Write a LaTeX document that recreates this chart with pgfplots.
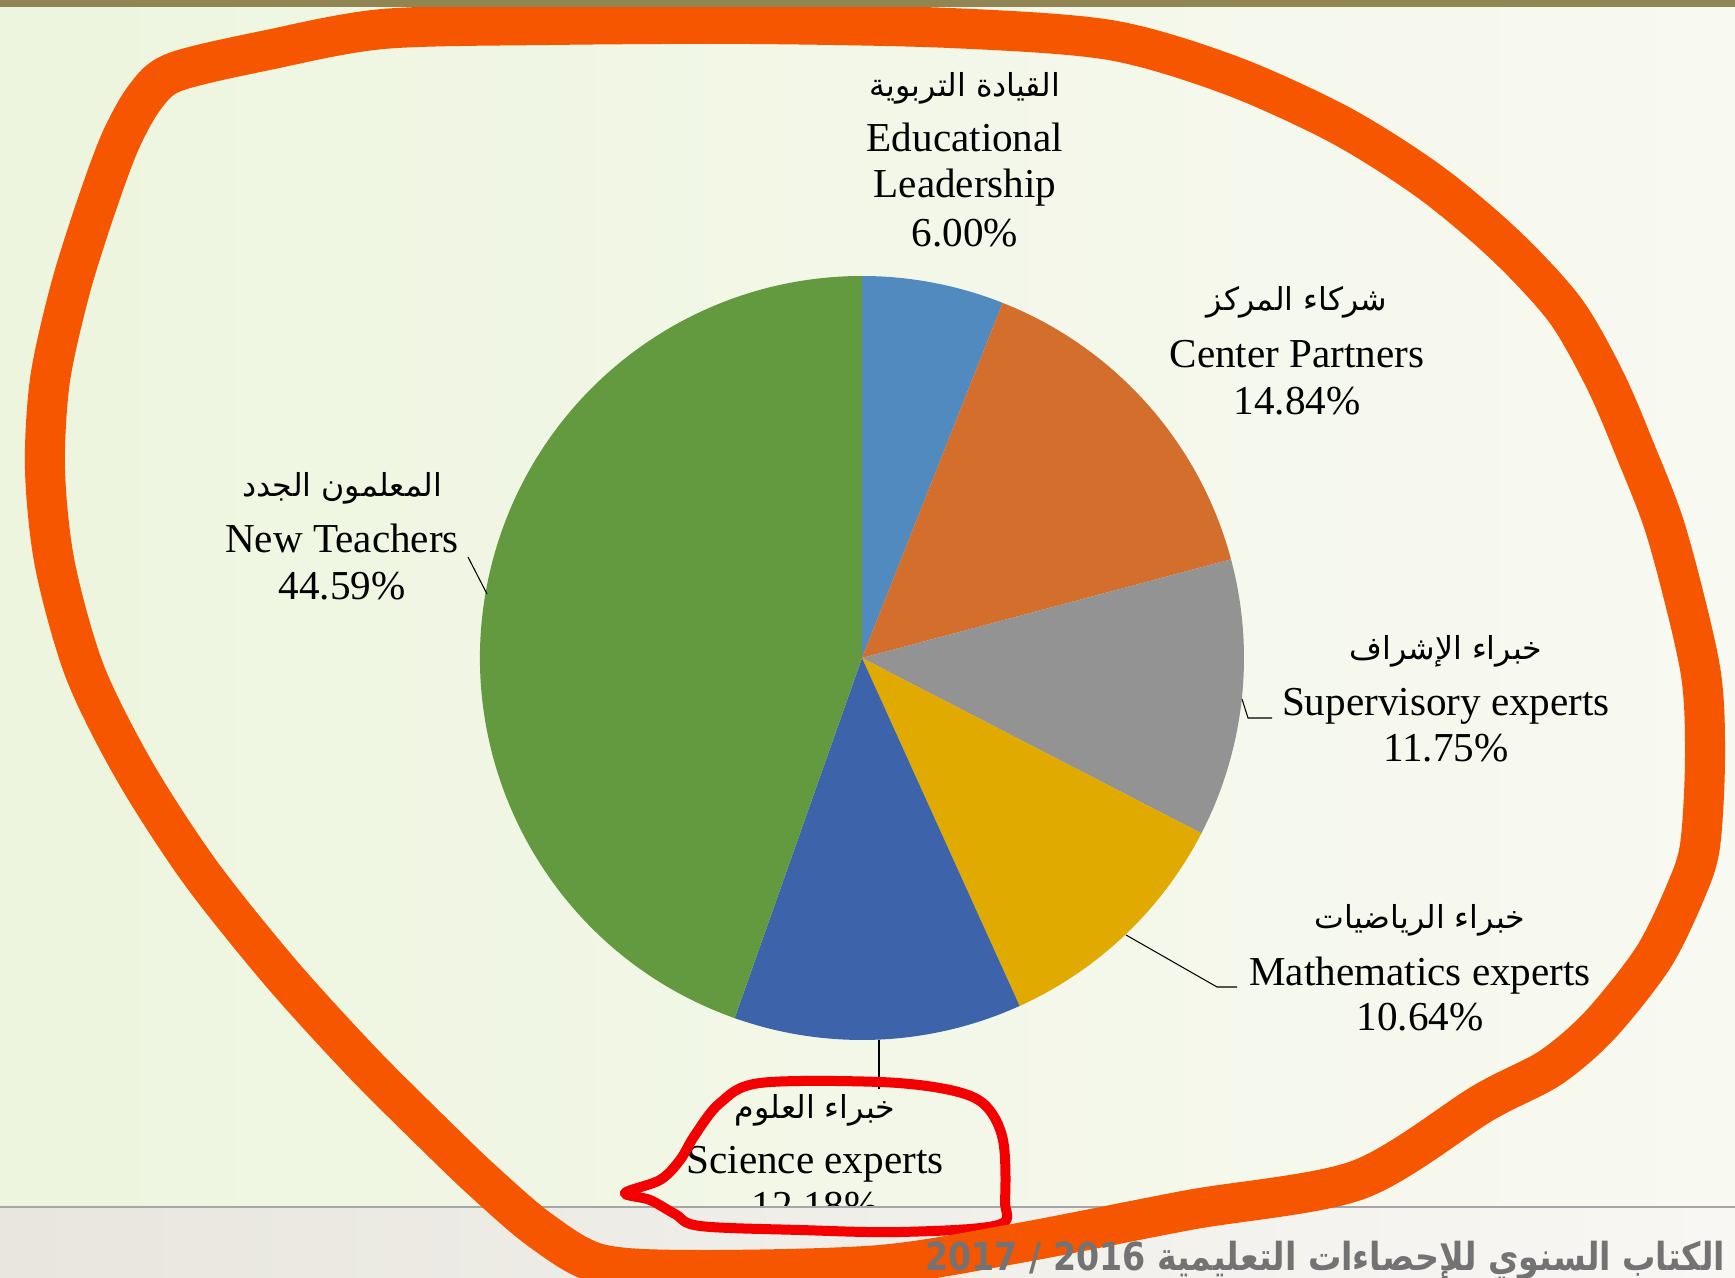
\documentclass[border=0pt]{standalone}
\usepackage{pgfplots}
\pgfplotsset{compat=1.18}
\usepackage{pgfplotstable}
\usepackage{fontspec}
\setmainfont{Liberation Serif}
\newfontfamily\arabicfont[Script=Arabic]{DejaVu Sans}
\newfontfamily\footfont[Script=Arabic,FakeStretch=0.86]{DejaVu Sans}
\TeXXeTstate=1

\definecolor{slEL}{HTML}{508ABE}
\definecolor{slCP}{HTML}{D36E2C}
\definecolor{slSE}{HTML}{939393}
\definecolor{slME}{HTML}{E0AA00}
\definecolor{slSC}{HTML}{3D63AB}
\definecolor{slNT}{HTML}{639A3F}
\definecolor{bgL}{HTML}{EDF5DE}
\definecolor{bgR}{HTML}{F8F9F1}
\definecolor{strip}{HTML}{918653}
\definecolor{footL}{HTML}{E8E6DE}
\definecolor{footR}{HTML}{F8F7F4}
\definecolor{scrib}{HTML}{F65600}
\definecolor{redloop}{HTML}{F50000}

% shares in percent, clockwise from 12 o'clock
\pgfplotstableread[col sep=comma]{
label,share,color
EL,6.00,slEL
CP,14.84,slCP
SE,11.75,slSE
ME,10.64,slME
SC,12.18,slSC
NT,44.59,slNT
}\piedata

\tikzset{en/.style={anchor=base,inner sep=0pt,font=\fontsize{11.7}{14}\selectfont},
         ar/.style={anchor=base,inner sep=0pt,font=\arabicfont\fontsize{9}{11}\selectfont}}

\begin{document}
\begin{tikzpicture}
\begin{axis}[
  name=ax,
  x=0.1mm, y=0.1mm,
  xmin=0, xmax=1735,
  ymin=0, ymax=1278,
  y dir=reverse,
  hide axis,
  clip=true,
]
% background
\shade[left color=bgL, right color=bgR] (axis cs:0,0) rectangle (axis cs:1735,1278);

% pie wedges
\pgfplotstablegetrowsof{\piedata}
\pgfmathtruncatemacro\lastrow{\pgfplotsretval-1}
\def\sa{90}
\pgfplotsforeachungrouped \i in {0,...,\lastrow}{
  \pgfplotstablegetelem{\i}{share}\of\piedata \let\val\pgfplotsretval
  \pgfplotstablegetelem{\i}{color}\of\piedata \let\col\pgfplotsretval
  \pgfmathsetmacro\ea{\sa-3.6*\val}
  \edef\wedge{\noexpand\fill[\col] (axis cs:862,658) -- ++(\sa:38.2mm)
    arc[start angle=\sa, end angle=\ea, radius=38.2mm] -- cycle;}
  \wedge
  \global\let\sa\ea
}

% leader lines
\draw[black, line width=0.3pt] (axis cs:468,557) -- (axis cs:487,594);
\draw[black, line width=0.3pt] (axis cs:1242,699) -- (axis cs:1248,718) -- (axis cs:1272,718);
\draw[black, line width=0.3pt] (axis cs:1126,935) -- (axis cs:1217,987) -- (axis cs:1237,987);
\draw[black, line width=0.3pt] (axis cs:879,1040) -- (axis cs:879,1089);

% labels
\node[ar] at (axis cs:965,97) {\beginR القيادة التربوية\endR};
\node[en] at (axis cs:965,152) {Educational};
\node[en] at (axis cs:965,198) {Leadership};
\node[en] at (axis cs:965,247) {6.00\%};

\node[ar] at (axis cs:1297,311) {\beginR شركاء المركز\endR};
\node[en] at (axis cs:1297,368) {Center Partners};
\node[en] at (axis cs:1297,415) {14.84\%};

\node[ar] at (axis cs:1446,660) {\beginR خبراء الإشراف\endR};
\node[en] at (axis cs:1446,716) {Supervisory experts};
\node[en] at (axis cs:1446,762) {11.75\%};

\node[ar] at (axis cs:1420,929) {\beginR خبراء الرياضيات\endR};
\node[en] at (axis cs:1420,986) {Mathematics experts};
\node[en] at (axis cs:1420,1031) {10.64\%};

\node[ar] at (axis cs:815,1119) {\beginR خبراء العلوم\endR};
\node[en] at (axis cs:815,1174) {Science experts};
\node[en] at (axis cs:815,1220) {12.18\%};

\node[ar] at (axis cs:342,497) {\beginR المعلمون الجدد\endR};
\node[en] at (axis cs:342,553) {New Teachers};
\node[en] at (axis cs:342,600) {44.59\%};

% footer band
\shade[left color=footL, right color=footR] (axis cs:0,1207) rectangle (axis cs:1735,1278);
\draw[gray!70, line width=0.6pt] (axis cs:0,1207) -- (axis cs:1735,1207);

% hand-drawn marks
\draw[redloop, line width=1mm, line join=round] plot[smooth cycle, tension=0.55] coordinates {
  (760,1083) (880,1082) (950,1090) (985,1105) (1003,1140) (1005,1200) (998,1225)
  (900,1232) (800,1230) (700,1226) (675,1214) (650,1200) (625,1193) (660,1180)
  (680,1160) (695,1135) (720,1103)};
\draw[scrib, line width=4mm, line join=round] plot[smooth cycle, tension=0.5] coordinates {
  (175,72) (268,50) (383,29) (550,25) (750,24) (950,28) (1110,40) (1230,75)
  (1340,125) (1430,182) (1505,245) (1565,310) (1605,380) (1635,450) (1667,534)
  (1700,668) (1705,757) (1700,846) (1685,893) (1653,958) (1600,1025) (1550,1068)
  (1483,1103) (1358,1180) (1189,1210) (1019,1243) (880,1265) (700,1270) (600,1264)
  (540,1230) (482,1180) (430,1130) (360,1060) (280,972) (200,872) (135,772)
  (85,672) (55,565) (45,470) (50,380) (70,290) (95,210) (120,142) (145,97)};

% footer text
\node[anchor=base east, inner sep=0pt, text=black!55,
  font=\footfont\bfseries\fontsize{11}{13}\selectfont]
  at (axis cs:1726,1271) {\beginR الكتاب السنوي للإحصاءات التعليمية 2016 / 2017\endR};

% top strip
\fill[strip] (axis cs:0,0) rectangle (axis cs:1735,7);
\end{axis}
\pgfresetboundingbox
\useasboundingbox (ax.south west) rectangle (ax.north east);
\end{tikzpicture}
\end{document}
